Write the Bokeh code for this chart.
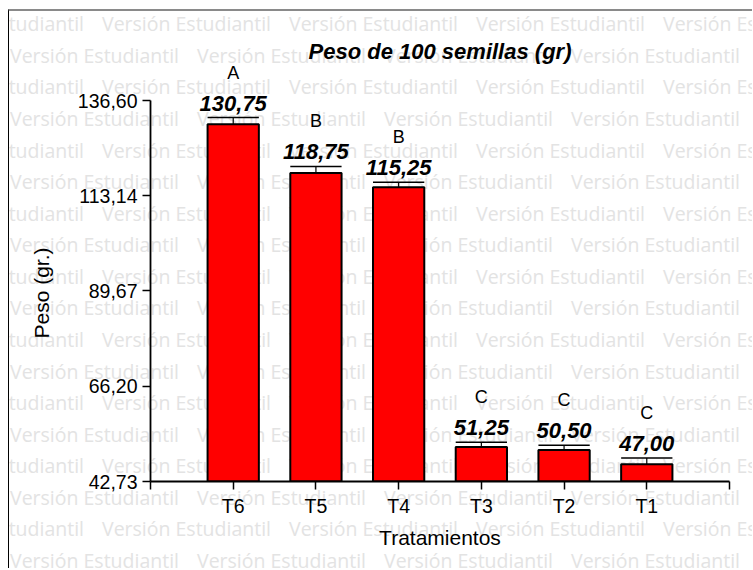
from bokeh.plotting import figure
from bokeh.layouts import column
from bokeh.models import (ColumnDataSource, FixedTicker, CustomJSTickFormatter,
                          Label, Div)
from bokeh.core.properties import value
from bokeh.embed import file_html
from bokeh.resources import INLINE

# ---- data ----
categories = ["T6", "T5", "T4", "T3", "T2", "T1"]
means = [130.75, 118.75, 115.25, 51.25, 50.50, 47.00]
errors = [1.65, 1.60, 1.20, 1.15, 1.15, 1.55]
letters = ["A", "B", "B", "C", "C", "C"]
y_ticks = [42.73, 66.20, 89.67, 113.14, 136.60]
title_text = "Peso de 100 semillas (gr)"
x_title = "Tratamientos"
y_title = "Peso (gr.)"
watermark = "Versión Estudiantil"

W, H = 753, 570
FONT = "Liberation Sans"
BAR_W = 0.62

# ================= background sheet: watermark, picture box, y title (HTML) =================
WM_SIZE = 19.5
box_x, box_y = 9, 11                     # inner corner of the picture box
spans = []
for i in range(18):
    base = 31.5 + 31.57 * i
    starts = [-85 + 187 * k for k in range(5)] if i % 2 == 0 else [10 + 187 * k for k in range(4)]
    for px in starts:
        top = base - 0.888 * WM_SIZE - box_y
        spans.append(
            f'<span style="position:absolute;left:{px - box_x:.1f}px;top:{top:.1f}px;'
            f'white-space:nowrap;">{watermark}</span>')
sheet = (
    f'<div style="position:relative;width:{W}px;height:{H}px;background:white;">'
    f'<div style="position:absolute;left:8px;top:9px;width:{W - 9}px;height:{H - 11}px;'
    f'border-top:2px solid #8a8a8a;border-left:1px solid #000;overflow:hidden;'
    f'font-family:\'Open Sans\';font-size:{WM_SIZE}px;line-height:{WM_SIZE}px;color:#e3e3e3;">'
    + "".join(spans) +
    '</div>'
    f'<span style="position:absolute;left:41px;top:292.5px;white-space:nowrap;'
    f'transform:translate(-50%,-50%) rotate(-90deg);font-family:\'{FONT}\';font-size:21px;'
    f'line-height:21px;color:black;">{y_title}</span>'
    '</div>')
bg = Div(text=sheet, width=W, height=H, margin=0)

# ================= chart (transparent, laid over the sheet) =================
positions = list(range(1, len(categories) + 1))
y_min, y_max = y_ticks[0], y_ticks[-1]
ppu = 381 / (y_max - y_min)          # pixels per unit
frame_bottom = 481
y_top = y_min + frame_bottom / ppu

p = figure(width=W, height=H, x_range=(0, len(categories) + 1),
           y_range=(y_min, y_top), output_backend="svg", toolbar_location=None,
           min_border_left=150, min_border_right=W - 150 - 579, min_border_top=0,
           min_border_bottom=H - frame_bottom,
           styles={"position": "absolute", "top": "0px", "left": "0px"})
p.outline_line_color = None
p.grid.visible = False
p.background_fill_color = None
p.border_fill_color = None

src = ColumnDataSource(dict(
    x=positions, top=means, err_top=[m + e for m, e in zip(means, errors)],
    x0=[x - BAR_W / 2 for x in positions], x1=[x + BAR_W / 2 for x in positions],
    lab=[f"{m:.2f}".replace(".", ",") for m in means], let=letters))

p.segment(x0="x", y0="top", x1="x", y1="err_top", source=src, line_color="black", line_width=1.2)
p.segment(x0="x0", y0="err_top", x1="x1", y1="err_top", source=src, line_color="black", line_width=1.5)
p.vbar(x="x", top="top", bottom=y_min, width=BAR_W, source=src,
       fill_color="#ff0000", line_color="black", line_width=2)

p.text(x="x", y="err_top", text="lab", source=src, y_offset=-14.5,
       text_font=value(FONT), text_font_style="bold italic", text_font_size="22px",
       text_align="center", text_baseline="alphabetic", text_color="black")
p.text(x="x", y="err_top", text="let", source=src, y_offset=-45,
       text_font=value(FONT), text_font_size="18px",
       text_align="center", text_baseline="alphabetic", text_color="black")

p.add_layout(Label(x=439.5 - 150, y=frame_bottom - 51, x_units="screen", y_units="screen",
                   text=title_text, text_font=FONT, text_font_style="bold italic",
                   text_font_size="22px", text_align="center", text_baseline="alphabetic",
                   text_color="black"))

xa = p.xaxis[0]
xa.ticker = FixedTicker(ticks=list(range(0, len(categories) + 2)))
xa.formatter = CustomJSTickFormatter(args=dict(labels=categories), code="""
const i = Math.round(tick);
return (i >= 1 && i <= labels.length) ? labels[i - 1] : '';
""")
xa.bounds = (0, len(categories) + 1)
xa.axis_label = x_title

ya = p.yaxis[0]
ya.ticker = FixedTicker(ticks=y_ticks)
ya.formatter = CustomJSTickFormatter(code="return tick.toFixed(2).replace('.', ',');")
ya.bounds = (y_min, y_max)

for ax in (xa, ya):
    ax.axis_line_color = "black"
    ax.axis_line_width = 1.8
    ax.major_tick_line_color = "black"
    ax.major_tick_line_width = 1.5
    ax.major_tick_in = 0
    ax.major_tick_out = 8
    ax.minor_tick_line_color = None
    ax.major_label_text_font = FONT
    ax.major_label_text_font_size = "19.5px"
    ax.major_label_text_color = "black"
    ax.axis_label_text_font = FONT
    ax.axis_label_text_font_size = "21px"
    ax.axis_label_text_font_style = "normal"
    ax.axis_label_text_color = "black"
xa.major_label_standoff = 5
xa.axis_label_standoff = 6
ya.major_label_standoff = 5

layout = column(bg, p)
open("out.html", "w").write(file_html(layout, INLINE))
